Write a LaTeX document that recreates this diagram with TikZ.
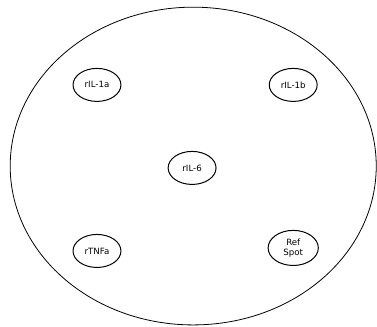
\documentclass[tikz,border=0pt]{standalone}
\usepackage{fontspec}
\setsansfont{DejaVu Sans}
\usetikzlibrary{positioning}
\usetikzlibrary{shapes.geometric}
\tikzset{spot/.style={ellipse,draw=black,line width=0.75pt,minimum width=1.27cm,minimum height=0.875cm,inner sep=0pt,align=center,font=\sffamily\fontsize{6.5}{7.5}\selectfont}}
\tikzset{well/.style={ellipse,draw=black,line width=0.6pt,minimum width=9.7cm,minimum height=8.42cm,inner sep=0pt}}

\begin{document}
\begin{tikzpicture}
\useasboundingbox (-5.09,-4.19) rectangle (4.90,4.45);
\begin{scope}[on grid]

\node[spot] at (0,0) (IL6) {rIL-6};
\node[spot, above left=2.20cm and 2.52cm of IL6] (IL1a) {rIL-1a};
\node[spot, above right=2.20cm and 2.68cm of IL6] (IL1b) {rIL-1b};
\node[spot, below left=2.20cm and 2.52cm of IL6] (TNFa) {rTNFa};
\node[spot, below right=2.12cm and 2.68cm of IL6, minimum width=1.33cm, minimum height=0.93cm] (ref) {Ref\\Spot};

\node[well] at (0.03,0.05) (dish) {};

\end{scope}
\end{tikzpicture}
\end{document}
